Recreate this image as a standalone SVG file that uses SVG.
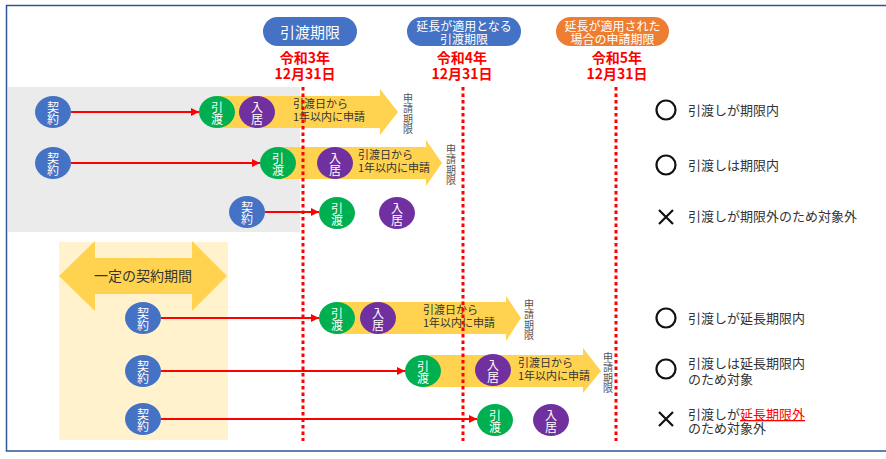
<svg xmlns="http://www.w3.org/2000/svg" width="886" height="459" viewBox="0 0 886 459">
<defs>
<style>
text{font-family:"Noto Sans CJK JP","Noto Sans",sans-serif}
.ct{font-size:12px;fill:#fff;text-anchor:middle;writing-mode:vertical-rl}
.k{fill:#4472C4}.g{fill:#00B050}.p{fill:#7030A0}
.yl{fill:#FFD34F}
.at{font-size:11px;fill:#333}
.vt{font-size:10px;fill:#555;writing-mode:vertical-rl;letter-spacing:0.5px}
.lg{font-size:13px;fill:#333}
.dl{stroke:#FF0000;stroke-width:3;stroke-dasharray:3.5 3;fill:none}
.rl{stroke:#FF0000;stroke-width:2;fill:none;marker-end:url(#ah)}
.mk{stroke:#111;stroke-width:2.2;fill:none}
.dt{font-size:14px;font-weight:bold;fill:#FF0000;text-anchor:middle}
.pt{fill:#fff;text-anchor:middle}
</style>
<marker id="ah" viewBox="0 0 10 10" refX="10" refY="5" markerWidth="4" markerHeight="4" orient="auto"><path d="M0,0 L10,5 L0,10z" fill="#FF0000"/></marker>
</defs>
<rect x="0" y="0" width="886" height="459" fill="#fff"/>
<rect x="6.5" y="5.5" width="900" height="445.5" fill="none" stroke="#2F5597" stroke-width="1.5"/>
<rect x="8" y="87" width="292" height="145" fill="#EBEBEB"/>
<rect x="59" y="242" width="169" height="198" fill="#FFF2CC"/>

<g id="header">
<g id="pill1"><rect x="263" y="17" width="94" height="29" rx="14.5" fill="#4472C4"/><text class="pt" x="310" y="38" font-size="15">引渡期限</text></g>
<g id="pill2"><rect x="407" y="17" width="114" height="29" rx="14.5" fill="#4472C4"/><text class="pt" x="464" y="30.5" font-size="12">延長が適用となる</text><text class="pt" x="464" y="44" font-size="12">引渡期限</text></g>
<g id="pill3"><rect x="556" y="17" width="113" height="29" rx="14.5" fill="#ED7D31"/><text class="pt" x="612.5" y="30.5" font-size="12">延長が適用された</text><text class="pt" x="612.5" y="44" font-size="12">場合の申請期限</text></g>
<text class="dt" x="305" y="63">令和3年</text><text class="dt" x="305" y="79">12月31日</text>
<text class="dt" x="462" y="63">令和4年</text><text class="dt" x="462" y="79">12月31日</text>
<text class="dt" x="617" y="63">令和5年</text><text class="dt" x="617" y="79">12月31日</text>
</g>

<g id="period">
<polygon class="yl" points="59,276 95,241 95,258 192,258 192,241 227,276 192,311 192,294 95,294 95,311"/>
<text x="143" y="281" font-size="14" fill="#333" text-anchor="middle">一定の契約期間</text>
</g>

<g id="bars">
<polygon class="yl" points="217,96 380,96 380,89 398,112 380,135 380,128 217,128"/>
<text class="at" x="293" y="108">引渡日から</text><text class="at" x="293" y="121">1年以内に申請</text>
<polygon class="yl" points="278,147 426,147 426,140 442,163 426,186 426,179 278,179"/>
<text class="at" x="358" y="159">引渡日から</text><text class="at" x="358" y="172">1年以内に申請</text>
<polygon class="yl" points="337,302 506,302 506,296 521,318 506,341 506,334 337,334"/>
<text class="at" x="423" y="314">引渡日から</text><text class="at" x="423" y="327">1年以内に申請</text>
<polygon class="yl" points="423,355 583,355 583,348 601,371 583,393 583,387 423,387"/>
<text class="at" x="518" y="367">引渡日から</text><text class="at" x="518" y="380">1年以内に申請</text>
</g>

<g id="deadline-labels">
<text class="vt" x="408" y="93">申請期限</text>
<text class="vt" x="451" y="144">申請期限</text>
<text class="vt" x="529" y="299">申請期限</text>
<text class="vt" x="608" y="352">申請期限</text>
</g>

<g id="connectors">
<line class="rl" x1="71" y1="112" x2="199" y2="112"/>
<line class="rl" x1="71" y1="163" x2="260" y2="163"/>
<line class="rl" x1="265" y1="212" x2="319" y2="212"/>
<line class="rl" x1="161" y1="318" x2="319" y2="318"/>
<line class="rl" x1="161" y1="371" x2="405" y2="371"/>
<line class="rl" x1="161" y1="419" x2="477" y2="419"/>
</g>

<g id="deadlines">
<line class="dl" x1="303" y1="87" x2="303" y2="441"/>
<line class="dl" x1="463" y1="87" x2="463" y2="441"/>
<line class="dl" x1="616" y1="87" x2="616" y2="441"/>
</g>

<g id="r1-contract"><ellipse class="k" cx="53" cy="112" rx="18" ry="16"/><text class="ct" x="53" y="113">契約</text></g>
<g id="r1-handover"><ellipse class="g" cx="217" cy="112" rx="18" ry="16"/><text class="ct" x="217" y="113">引渡</text></g>
<g id="r1-move"><ellipse class="p" cx="257" cy="112" rx="18" ry="16"/><text class="ct" x="257" y="113">入居</text></g>

<g id="r2-contract"><ellipse class="k" cx="53" cy="163" rx="18" ry="16"/><text class="ct" x="53" y="164">契約</text></g>
<g id="r2-handover"><ellipse class="g" cx="278" cy="163" rx="18" ry="16"/><text class="ct" x="278" y="164">引渡</text></g>
<g id="r2-move"><ellipse class="p" cx="335" cy="163" rx="18" ry="16"/><text class="ct" x="335" y="164">入居</text></g>

<g id="r3-contract"><ellipse class="k" cx="247" cy="212" rx="18" ry="16"/><text class="ct" x="247" y="213">契約</text></g>
<g id="r3-handover"><ellipse class="g" cx="337" cy="213" rx="18" ry="16"/><text class="ct" x="337" y="214">引渡</text></g>
<g id="r3-move"><ellipse class="p" cx="397" cy="213" rx="18" ry="16"/><text class="ct" x="397" y="214">入居</text></g>

<g id="r4-contract"><ellipse class="k" cx="143" cy="318" rx="18" ry="16"/><text class="ct" x="143" y="319">契約</text></g>
<g id="r4-handover"><ellipse class="g" cx="337" cy="318" rx="18" ry="16"/><text class="ct" x="337" y="319">引渡</text></g>
<g id="r4-move"><ellipse class="p" cx="378" cy="318" rx="18" ry="16"/><text class="ct" x="378" y="319">入居</text></g>

<g id="r5-contract"><ellipse class="k" cx="143" cy="371" rx="18" ry="16"/><text class="ct" x="143" y="372">契約</text></g>
<g id="r5-handover"><ellipse class="g" cx="423" cy="371" rx="18" ry="16"/><text class="ct" x="423" y="372">引渡</text></g>
<g id="r5-move"><ellipse class="p" cx="493" cy="370" rx="18" ry="16"/><text class="ct" x="493" y="371">入居</text></g>

<g id="r6-contract"><ellipse class="k" cx="143" cy="419" rx="18" ry="16"/><text class="ct" x="143" y="420">契約</text></g>
<g id="r6-handover"><ellipse class="g" cx="495" cy="420" rx="18" ry="16"/><text class="ct" x="495" y="421">引渡</text></g>
<g id="r6-move"><ellipse class="p" cx="551" cy="420" rx="18" ry="16"/><text class="ct" x="551" y="421">入居</text></g>

<g id="legend">
<circle class="mk" cx="666" cy="110" r="9.5"/><text class="lg" x="688" y="114.5">引渡しが期限内</text>
<circle class="mk" cx="666" cy="165" r="9.5"/><text class="lg" x="688" y="169.5">引渡しは期限内</text>
<path class="mk" d="M659,210 L673,224 M673,210 L659,224"/><text class="lg" x="688" y="221">引渡しが期限外のため対象外</text>
<circle class="mk" cx="666" cy="318" r="9.5"/><text class="lg" x="688" y="322.5">引渡しが延長期限内</text>
<circle class="mk" cx="666" cy="369" r="9.5"/><text class="lg" x="688" y="368">引渡しは延長期限内</text><text class="lg" x="688" y="384">のため対象</text>
<path class="mk" d="M659,412 L673,426 M673,412 L659,426"/><text class="lg" x="688" y="419">引渡しが<tspan fill="#FF0000" text-decoration="underline">延長期限外</tspan></text><text class="lg" x="688" y="433">のため対象外</text>
</g>
</svg>
